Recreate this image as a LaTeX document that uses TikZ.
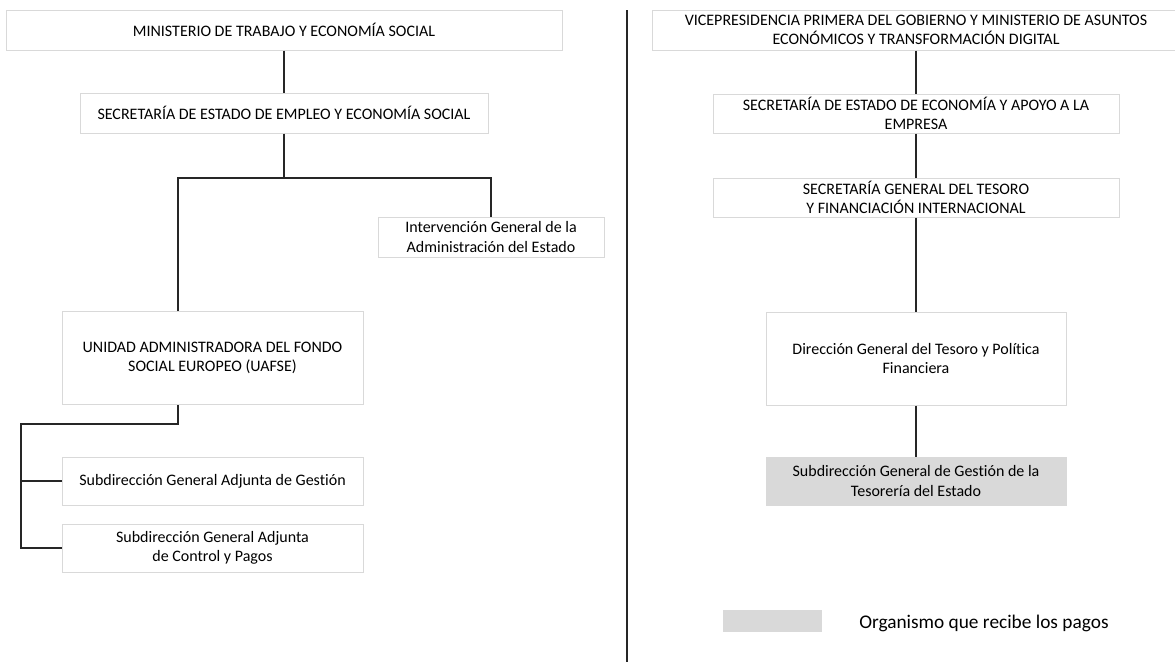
\documentclass[tikz,border=0pt]{standalone}
\usepackage{fontspec}
\setmainfont{Carlito}[Ligatures=NoCommon]
\definecolor{boxline}{RGB}{217,217,217}
\definecolor{paidfill}{RGB}{217,217,217}
\tikzset{
  orgbox/.style={draw=boxline, line width=0.75pt, align=center, inner sep=0pt, font=\fontsize{12}{14.6}\selectfont},
  boxsize/.style 2 args={minimum width=#1*0.75pt, minimum height=#2*0.75pt},
  paid/.style={fill=paidfill},
  link/.style={draw=black!85, line width=1.3pt},
}

\begin{document}
\begin{tikzpicture}[x=0.75pt,y=0.75pt,yscale=-1,xscale=1]
\path[use as bounding box] (0,0) rectangle (1175,662);

%Left chart: boxes
\node[orgbox, boxsize={556}{40}] (mte) at (284,30) {MINISTERIO DE TRABAJO Y ECONOMÍA SOCIAL};
\node[orgbox, boxsize={408}{40}] (seEmpleo) at (284,113) {SECRETARÍA DE ESTADO DE EMPLEO Y ECONOMÍA SOCIAL};
\node[orgbox, boxsize={226}{40}] (igae) at (491,237) {Intervención General de la\\Administración del Estado};
\node[orgbox, boxsize={301}{93}] (uafse) at (212.5,358) {UNIDAD ADMINISTRADORA DEL FONDO\\SOCIAL EUROPEO (UAFSE)};
\node[orgbox, boxsize={301}{48}] (sgGestion) at (212.5,481) {Subdirección General Adjunta de Gestión};
\node[orgbox, boxsize={301}{48}] (sgPagos) at (212.5,548) {Subdirección General Adjunta\\de Control y Pagos};

%Left chart: links
\coordinate (splitL) at (178,178);
\coordinate (splitR) at (491,178);
\coordinate (bus) at (21,424);
\draw[link] (mte) -- (seEmpleo);
\draw[link] (seEmpleo.south) -- (seEmpleo.south |- splitL);
\draw[link] (splitL |- uafse.north) -- (splitL) -- (splitR) -- (igae.north);
\draw[link] (uafse.south -| splitL) -- (splitL |- bus) -- (bus) -- (bus |- sgPagos.west) -- (sgPagos.west);
\draw[link] (bus |- sgGestion.west) -- (sgGestion.west);

%Straight Lines: divider
\draw[link] (627,10) -- (627,662);

%Right chart: boxes
\node[orgbox, boxsize={528}{40}] (vpGob) at (916,30) {VICEPRESIDENCIA PRIMERA DEL GOBIERNO Y MINISTERIO DE ASUNTOS\\ECONÓMICOS Y TRANSFORMACIÓN DIGITAL};
\node[orgbox, boxsize={406}{39}] (seEconomia) at (916,113.5) {SECRETARÍA DE ESTADO DE ECONOMÍA Y APOYO A LA\\EMPRESA};
\node[orgbox, boxsize={406}{39}] (sgTesoro) at (916,197.5) {SECRETARÍA GENERAL DEL TESORO\\Y FINANCIACIÓN INTERNACIONAL};
\node[orgbox, boxsize={300}{93}] (dgTesoro) at (916,358.5) {Dirección General del Tesoro y Política\\Financiera};
\node[orgbox, paid, boxsize={300}{48}] (sgTesoreria) at (916,481) {Subdirección General de Gestión de la\\Tesorería del Estado};

%Right chart: links
\draw[link] (vpGob) -- (seEconomia);
\draw[link] (seEconomia) -- (sgTesoro);
\draw[link] (sgTesoro) -- (dgTesoro);
\draw[link] (dgTesoro) -- (sgTesoreria);

% Legend
\node[paid, inner sep=0pt, boxsize={99}{22}] (legendKey) at (772.5,621) {};
\node[anchor=west, inner sep=0pt, font=\fontsize{14.5}{17}\selectfont] (legendText) at (859,623) {Organismo que recibe los pagos};

\end{tikzpicture}
\end{document}
